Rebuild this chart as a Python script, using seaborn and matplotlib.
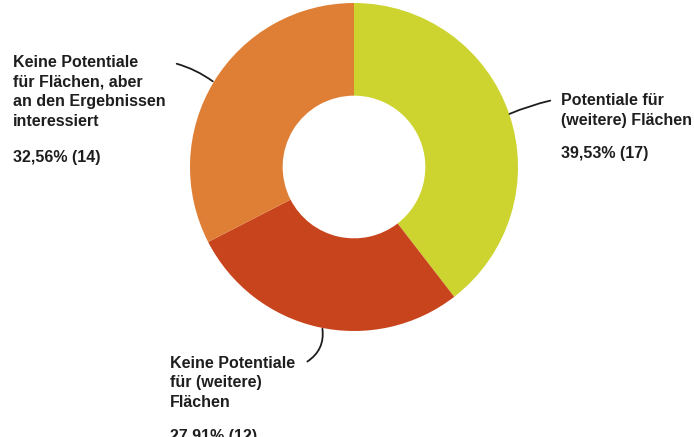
import numpy as np
import matplotlib
matplotlib.use("Agg")
import matplotlib.pyplot as plt
import seaborn as sns

# Daten
kategorien = ["Potentiale für\n(weitere) Flächen",
              "Keine Potentiale\nfür (weitere)\nFlächen",
              "Keine Potentiale\nfür Flächen, aber\nan den Ergebnissen\ninteressiert"]
anzahl = [17, 12, 14]
farben = ["#cdd42f", "#c8441d", "#df7f36"]

sns.set_theme(style="white")
plt.rcParams["font.family"] = ["Liberation Sans", "DejaVu Sans"]

W, H = 694, 437
fig = plt.figure(figsize=(W / 100, H / 100), dpi=100)
ax = fig.add_axes([0, 0, 1, 1])

# Kreis-Mitte/Radius in Pixeln (y von unten)
cx, cy, r = 354, H - 167, 164
ax.pie(anzahl, colors=farben, startangle=90, counterclock=False,
       center=(cx, cy), radius=r,
       wedgeprops=dict(width=r * 0.565, linewidth=0))
ax.set_xlim(0, W)
ax.set_ylim(0, H)
ax.set_aspect("equal")
ax.axis("off")

gesamt = sum(anzahl)
prozent = [f"{v / gesamt * 100:.2f}".replace(".", ",") + f"% ({v})" for v in anzahl]

txt = dict(fontsize=11.5, fontweight="bold", color="#1e1e1e", ha="left",
           va="baseline")
zeile = 19.5

# Beschriftungen (x, y der ersten Grundlinie, Pixel von oben)
pos_label = [(561, 105), (170, 368), (13, 67)]
pos_pct = [(561, 158), (170, 441), (13, 162)]
for name, p, (lx, ly), (px, py) in zip(kategorien, prozent, pos_label, pos_pct):
    for i, z in enumerate(name.split("\n")):
        ax.text(lx, H - (ly + i * zeile), z, **txt)
    ax.text(px, H - py, p, **txt)

# Führungslinien
linie = dict(arrowstyle="-", color="#1e1e1e", lw=1.3)
ax.annotate("", xy=(507, H - 115), xytext=(553, H - 100),
            arrowprops=dict(**linie, connectionstyle="arc3,rad=0.05"))
ax.annotate("", xy=(215, H - 83), xytext=(174, H - 63),
            arrowprops=dict(**linie, connectionstyle="arc3,rad=-0.1"))
ax.annotate("", xy=(322, H - 326), xytext=(305, H - 363),
            arrowprops=dict(**linie, connectionstyle="arc3,rad=0.35"))

fig.savefig("out.png", dpi=100, facecolor="white")
